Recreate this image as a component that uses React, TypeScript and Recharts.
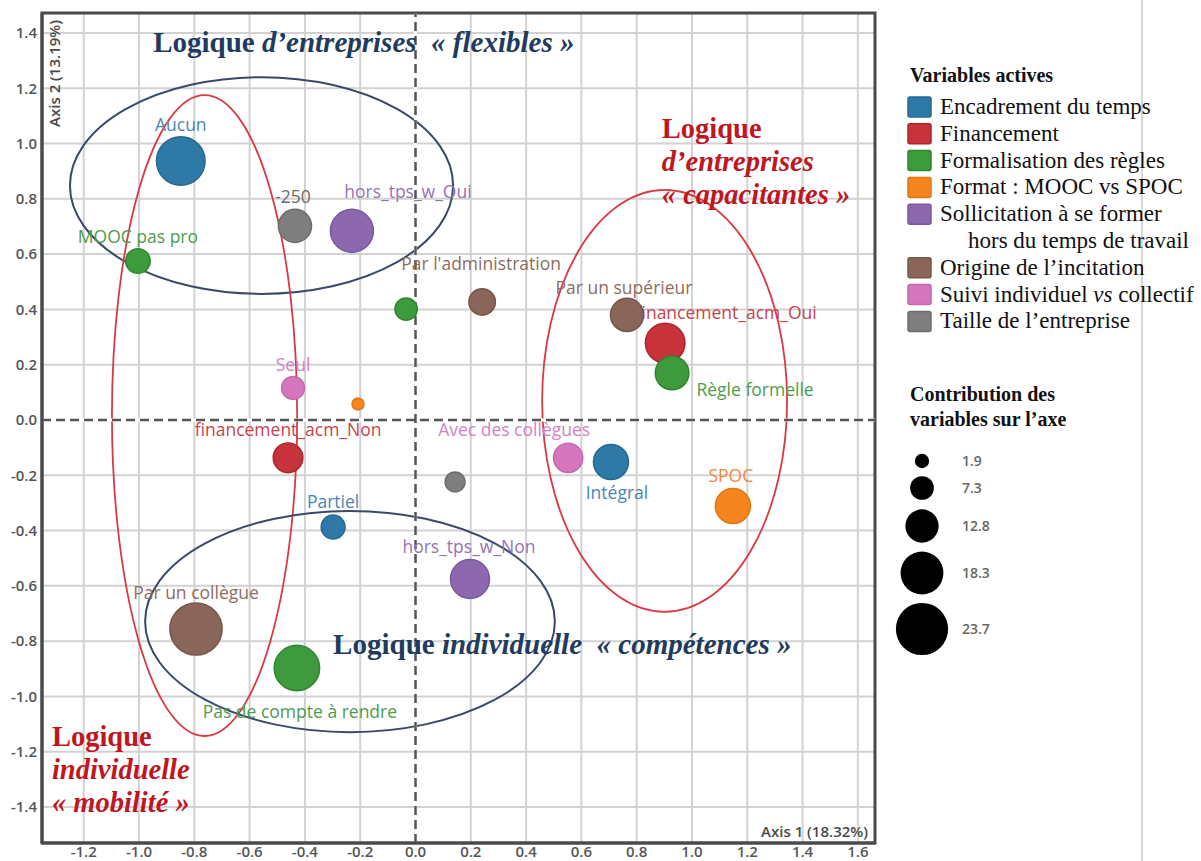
import React from 'react';
import {
  ScatterChart,
  Scatter,
  XAxis,
  YAxis,
  CartesianGrid,
  ReferenceLine,
  ReferenceArea,
  ReferenceDot,
} from 'recharts';

// ---------- axes ----------
const X_DOMAIN: [number, number] = [-1.351, 1.662];
const Y_DOMAIN: [number, number] = [-1.53, 1.472];
const X_TICKS = [-1.2, -1.0, -0.8, -0.6, -0.4, -0.2, 0.0, 0.2, 0.4, 0.6, 0.8, 1.0, 1.2, 1.4, 1.6];
const Y_TICKS = [-1.4, -1.2, -1.0, -0.8, -0.6, -0.4, -0.2, 0.0, 0.2, 0.4, 0.6, 0.8, 1.0, 1.2, 1.4];
const X_TITLE = 'Axis 1 (18.32%)';
const Y_TITLE = 'Axis 2 (13.19%)';

// ---------- data (x = axis 1, y = axis 2, c = contribution) ----------
const encadrement = [
  { name: 'Aucun', x: -0.849, y: 0.937, c: 21.6 },
  { name: 'Partiel', x: -0.298, y: -0.387, c: 7.4 },
  { name: 'Intégral', x: 0.707, y: -0.152, c: 13.8 },
];
const financement = [
  { name: 'financement_acm_Oui', x: 0.903, y: 0.278, c: 16.4 },
  { name: 'financement_acm_Non', x: -0.461, y: -0.137, c: 10.7 },
];
const formalisation = [
  { name: 'MOOC pas pro', x: -1.004, y: 0.575, c: 7.8 },
  { name: '', x: -0.034, y: 0.401, c: 6.5 },
  { name: 'Règle formelle', x: 0.928, y: 0.17, c: 13.0 },
  { name: 'Pas de compte à rendre', x: -0.429, y: -0.897, c: 19.8 },
];
const format = [
  { name: '', x: -0.208, y: 0.058, c: 0.6 },
  { name: 'SPOC', x: 1.148, y: -0.311, c: 13.8 },
];
const sollicitation = [
  { name: 'hors_tps_w_Oui', x: -0.23, y: 0.684, c: 18.4 },
  { name: 'hors_tps_w_Non', x: 0.197, y: -0.575, c: 16.1 },
];
const origine = [
  { name: "Par l'administration", x: 0.241, y: 0.427, c: 8.9 },
  { name: 'Par un supérieur', x: 0.765, y: 0.38, c: 12.7 },
  { name: 'Par un collègue', x: -0.794, y: -0.756, c: 23.7 },
];
const suivi = [
  { name: 'Seul', x: -0.443, y: 0.116, c: 6.8 },
  { name: 'Avec des collègues', x: 0.552, y: -0.137, c: 10.5 },
];
const taille = [
  { name: '-250', x: -0.436, y: 0.702, c: 12.7 },
  { name: '', x: 0.143, y: -0.224, c: 5.1 },
];

const CATEGORY_NAMES = [
  'Encadrement du temps',
  'Financement',
  'Formalisation des règles',
  'Format : MOOC vs SPOC',
  'Sollicitation à se former',
  'Origine de l’incitation',
  'Suivi individuel vs collectif',
  'Taille de l’entreprise',
];
const CONTRIB_LEGEND = [1.9, 7.3, 12.8, 18.3, 23.7];

// grouping ellipses (data-space bounding boxes)
const ELLIPSES = [
  { x1: -1.25, x2: 0.136, y1: 0.456, y2: 1.24, tone: 'navy' },
  { x1: -1.098, x2: -0.428, y1: -1.143, y2: 1.175, tone: 'red' },
  { x1: 0.458, x2: 1.344, y1: -0.694, y2: 0.832, tone: 'red' },
  { x1: -0.978, x2: 0.504, y1: -1.129, y2: -0.329, tone: 'navy' },
];

// ---------- styles ----------
const COLORS = ['#2e79a6', '#c8323a', '#3d9a3d', '#f5861f', '#8d68ae', '#89655a', '#d677be', '#7e7e7e'];
const STROKES = ['#246a94', '#b0232b', '#2f862f', '#e4760f', '#7b589c', '#785549', '#c566ad', '#6c6c6c'];
const LABEL_COLORS = ['#4a86b3', '#c5444c', '#4c9c4c', '#f08a3a', '#9274b2', '#8c6c62', '#d382c2', '#6a6a6a'];
const NAVY = '#1f3b5e';
const DARK_RED = '#c0161f';

// label placement: offset of text centre from bubble centre (px)
const LABEL_OFFSETS: Record<string, [number, number]> = {
  Aucun: [0, -36],
  Partiel: [0, -25],
  'Intégral': [6, 31],
  financement_acm_Oui: [61, -30],
  financement_acm_Non: [0, -28],
  'MOOC pas pro': [0, -24],
  'Règle formelle': [83, 17],
  'Pas de compte à rendre': [3, 44],
  SPOC: [-2, -30],
  hors_tps_w_Oui: [56, -39],
  hors_tps_w_Non: [-1, -32],
  "Par l'administration": [-1, -38],
  'Par un supérieur': [-3, -27],
  'Par un collègue': [0, -36],
  Seul: [0, -23],
  'Avec des collègues': [-54, -28],
  '-250': [-2, -29],
};

const radius = (c: number) => 5.5 + 0.87 * c;

const SERIES = [encadrement, financement, formalisation, format, sollicitation, origine, suivi, taille];

const SANS = '"Open Sans", "Noto Sans", sans-serif';
const SERIF = '"Liberation Serif", "Times New Roman", serif';

const makeShape = (i: number) => (props: any) => {
  const { cx, cy, payload } = props;
  const r = radius(payload.c);
  const off = LABEL_OFFSETS[payload.name] || [0, 0];
  return (
    <g>
      <circle cx={cx} cy={cy} r={r} fill={COLORS[i]} stroke={STROKES[i]} strokeWidth={1.5} />
      {payload.name ? (
        <text
          x={cx + off[0]}
          y={cy + off[1]}
          dy="0.35em"
          textAnchor="middle"
          fontFamily={SANS}
          fontSize={17.5}
          fill={LABEL_COLORS[i]}
        >
          {payload.name}
        </text>
      ) : null}
    </g>
  );
};

const ellipseShape = (tone: string) => (p: any) => {
  const w = Math.abs(p.width);
  const h = Math.abs(p.height);
  const x = Math.min(p.x, p.x + p.width);
  const y = Math.min(p.y, p.y + p.height);
  return (
    <ellipse
      cx={x + w / 2}
      cy={y + h / 2}
      rx={w / 2}
      ry={h / 2}
      fill="none"
      stroke={tone === 'navy' ? '#3a4966' : '#d93a42'}
      strokeWidth={tone === 'navy' ? 2 : 1.8}
    />
  );
};

const textDot = (render: (cx: number, cy: number) => React.ReactNode) => (p: any) => (
  <g>{render(p.cx, p.cy)}</g>
);

export default function App() {
  const tickStyle = { fontFamily: SANS, fontSize: 15, fontWeight: 600, fill: '#555' };
  return (
    <div style={{ position: 'absolute', left: 0, top: 0, width: 1201, height: 861, background: '#fff' }}>
      <ScatterChart width={1201} height={861} margin={{ top: 13, right: 326, bottom: 0, left: 0 }}>
        <CartesianGrid stroke="#d2d2d2" strokeWidth={2} />
        <XAxis
          type="number"
          dataKey="x"
          domain={X_DOMAIN}
          ticks={X_TICKS}
          allowDataOverflow
          height={18}
          tickSize={0}
          tickMargin={3}
          tickLine={false}
          axisLine={{ stroke: '#4a4a4a', strokeWidth: 3 }}
          tick={tickStyle}
          tickFormatter={(v: number) => v.toFixed(1)}
        />
        <YAxis
          type="number"
          dataKey="y"
          domain={Y_DOMAIN}
          ticks={Y_TICKS}
          allowDataOverflow
          width={42}
          tickSize={0}
          tickMargin={5}
          tickLine={false}
          axisLine={{ stroke: '#4a4a4a', strokeWidth: 3 }}
          tick={tickStyle}
          tickFormatter={(v: number) => v.toFixed(1)}
        />
        <ReferenceArea
          x1={X_DOMAIN[0]}
          x2={X_DOMAIN[1]}
          y1={Y_DOMAIN[0]}
          y2={Y_DOMAIN[1]}
          fill="none"
          fillOpacity={0}
          stroke="#4a4a4a"
          strokeWidth={3}
          ifOverflow="visible"
        />
        <ReferenceLine x={0} stroke="#ffffff" strokeWidth={3} />
        <ReferenceLine y={0} stroke="#ffffff" strokeWidth={3} />
        <ReferenceLine x={0} stroke="#555" strokeWidth={2.5} strokeDasharray="9 5" />
        <ReferenceLine y={0} stroke="#555" strokeWidth={2.5} strokeDasharray="9 5" />

        {SERIES.map((data, i) => (
          <Scatter
            key={CATEGORY_NAMES[i]}
            name={CATEGORY_NAMES[i]}
            data={data}
            fill={COLORS[i]}
            isAnimationActive={false}
            shape={makeShape(i)}
          />
        ))}

        {ELLIPSES.map((e, i) => (
          <ReferenceArea
            key={'el' + i}
            x1={e.x1}
            x2={e.x2}
            y1={e.y1}
            y2={e.y2}
            shape={ellipseShape(e.tone)}
          />
        ))}

        {/* axis titles inside the frame */}
        <ReferenceDot
          x={X_DOMAIN[0]}
          y={Y_DOMAIN[1]}
          r={0}
          ifOverflow="visible"
          shape={textDot((cx, cy) => (
            <text
              x={cx + 18}
              y={cy + 7}
              transform={`rotate(-90, ${cx + 18}, ${cy + 7})`}
              textAnchor="end"
              fontFamily={SANS}
              fontSize={15}
              fontWeight={600}
              fill="#4a4a4a"
            >
              {Y_TITLE}
            </text>
          ))}
        />
        <ReferenceDot
          x={X_DOMAIN[1]}
          y={Y_DOMAIN[0]}
          r={0}
          ifOverflow="visible"
          shape={textDot((cx, cy) => (
            <text x={cx - 7} y={cy - 6} textAnchor="end" fontFamily={SANS} fontSize={15} fontWeight={600} fill="#4a4a4a">
              {X_TITLE}
            </text>
          ))}
        />

        {/* group annotations */}
        <ReferenceDot
          x={-0.949}
          y={1.331}
          r={0}
          ifOverflow="visible"
          shape={textDot((cx, cy) => (
            <text x={cx} y={cy} fontFamily={SERIF} fontSize={29} fontWeight="bold" fill={NAVY}>
              <tspan>Logique </tspan>
              <tspan fontStyle="italic">d’entreprises</tspan>
              <tspan fontStyle="italic">{'\u00a0 « flexibles »'}</tspan>
            </text>
          ))}
        />
        <ReferenceDot
          x={0.891}
          y={1.02}
          r={0}
          ifOverflow="visible"
          shape={textDot((cx, cy) => (
            <text x={cx} y={cy} fontFamily={SERIF} fontSize={28.5} fontWeight="bold" fill={DARK_RED}>
              <tspan x={cx}>Logique</tspan>
              <tspan x={cx} dy={33} fontStyle="italic">d’entreprises</tspan>
              <tspan x={cx} dy={33} fontStyle="italic">« capacitantes »</tspan>
            </text>
          ))}
        />
        <ReferenceDot
          x={-0.298}
          y={-0.846}
          r={0}
          ifOverflow="visible"
          shape={textDot((cx, cy) => (
            <text x={cx} y={cy} fontFamily={SERIF} fontSize={29} fontWeight="bold" fill={NAVY}>
              <tspan>Logique </tspan>
              <tspan fontStyle="italic">individuelle</tspan>
              <tspan fontStyle="italic">{'\u00a0 « compétences »'}</tspan>
            </text>
          ))}
        />
        <ReferenceDot
          x={-1.315}
          y={-1.179}
          r={0}
          ifOverflow="visible"
          shape={textDot((cx, cy) => (
            <text x={cx} y={cy} fontFamily={SERIF} fontSize={28.5} fontWeight="bold" fill={DARK_RED}>
              <tspan x={cx}>Logique</tspan>
              <tspan x={cx} dy={33} fontStyle="italic">individuelle</tspan>
              <tspan x={cx} dy={33} fontStyle="italic">« mobilité »</tspan>
            </text>
          ))}
        />
      </ScatterChart>

      {/* right-hand legends */}
      <svg
        width={1201}
        height={861}
        style={{ position: 'absolute', left: 0, top: 0, pointerEvents: 'none' }}
      >
        <line x1={1142} y1={0} x2={1142} y2={861} stroke="#b0b0b0" strokeWidth={1} />
        <text x={910} y={82} fontFamily={SERIF} fontSize={20} fontWeight="bold" fill="#111">
          Variables actives
        </text>
        {CATEGORY_NAMES.map((name, i) => {
          const row = i >= 5 ? i + 1 : i;
          const cy = 107 + row * 26.8;
          return (
            <g key={name}>
              <rect x={908} y={cy - 10} width={23} height={20} rx={2} fill={COLORS[i]} stroke={STROKES[i]} strokeWidth={1.5} />
              <text x={940} y={cy + 7} fontFamily={SERIF} fontSize={23} fill="#111">
                {i === 6 ? (
                  <>
                    <tspan>Suivi individuel </tspan>
                    <tspan fontStyle="italic">vs</tspan>
                    <tspan> collectif</tspan>
                  </>
                ) : (
                  name
                )}
              </text>
              {i === 4 ? (
                <text x={968} y={cy + 26.8 + 7} fontFamily={SERIF} fontSize={23} fill="#111">
                  hors du temps de travail
                </text>
              ) : null}
            </g>
          );
        })}
        <text x={910} y={401} fontFamily={SERIF} fontSize={20} fontWeight="bold" fill="#111">
          <tspan x={910}>Contribution  des</tspan>
          <tspan x={910} dy={25}>variables sur l’axe</tspan>
        </text>
        {CONTRIB_LEGEND.map((c, i) => {
          const cys = [461, 488, 526, 573, 629];
          return (
            <g key={c}>
              <circle cx={922} cy={cys[i]} r={radius(c)} fill="#000" />
              <text x={962} y={cys[i]} dy="0.35em" fontFamily={SANS} fontSize={14} fontWeight={600} fill="#666">
                {c.toFixed(1)}
              </text>
            </g>
          );
        })}
      </svg>
    </div>
  );
}
